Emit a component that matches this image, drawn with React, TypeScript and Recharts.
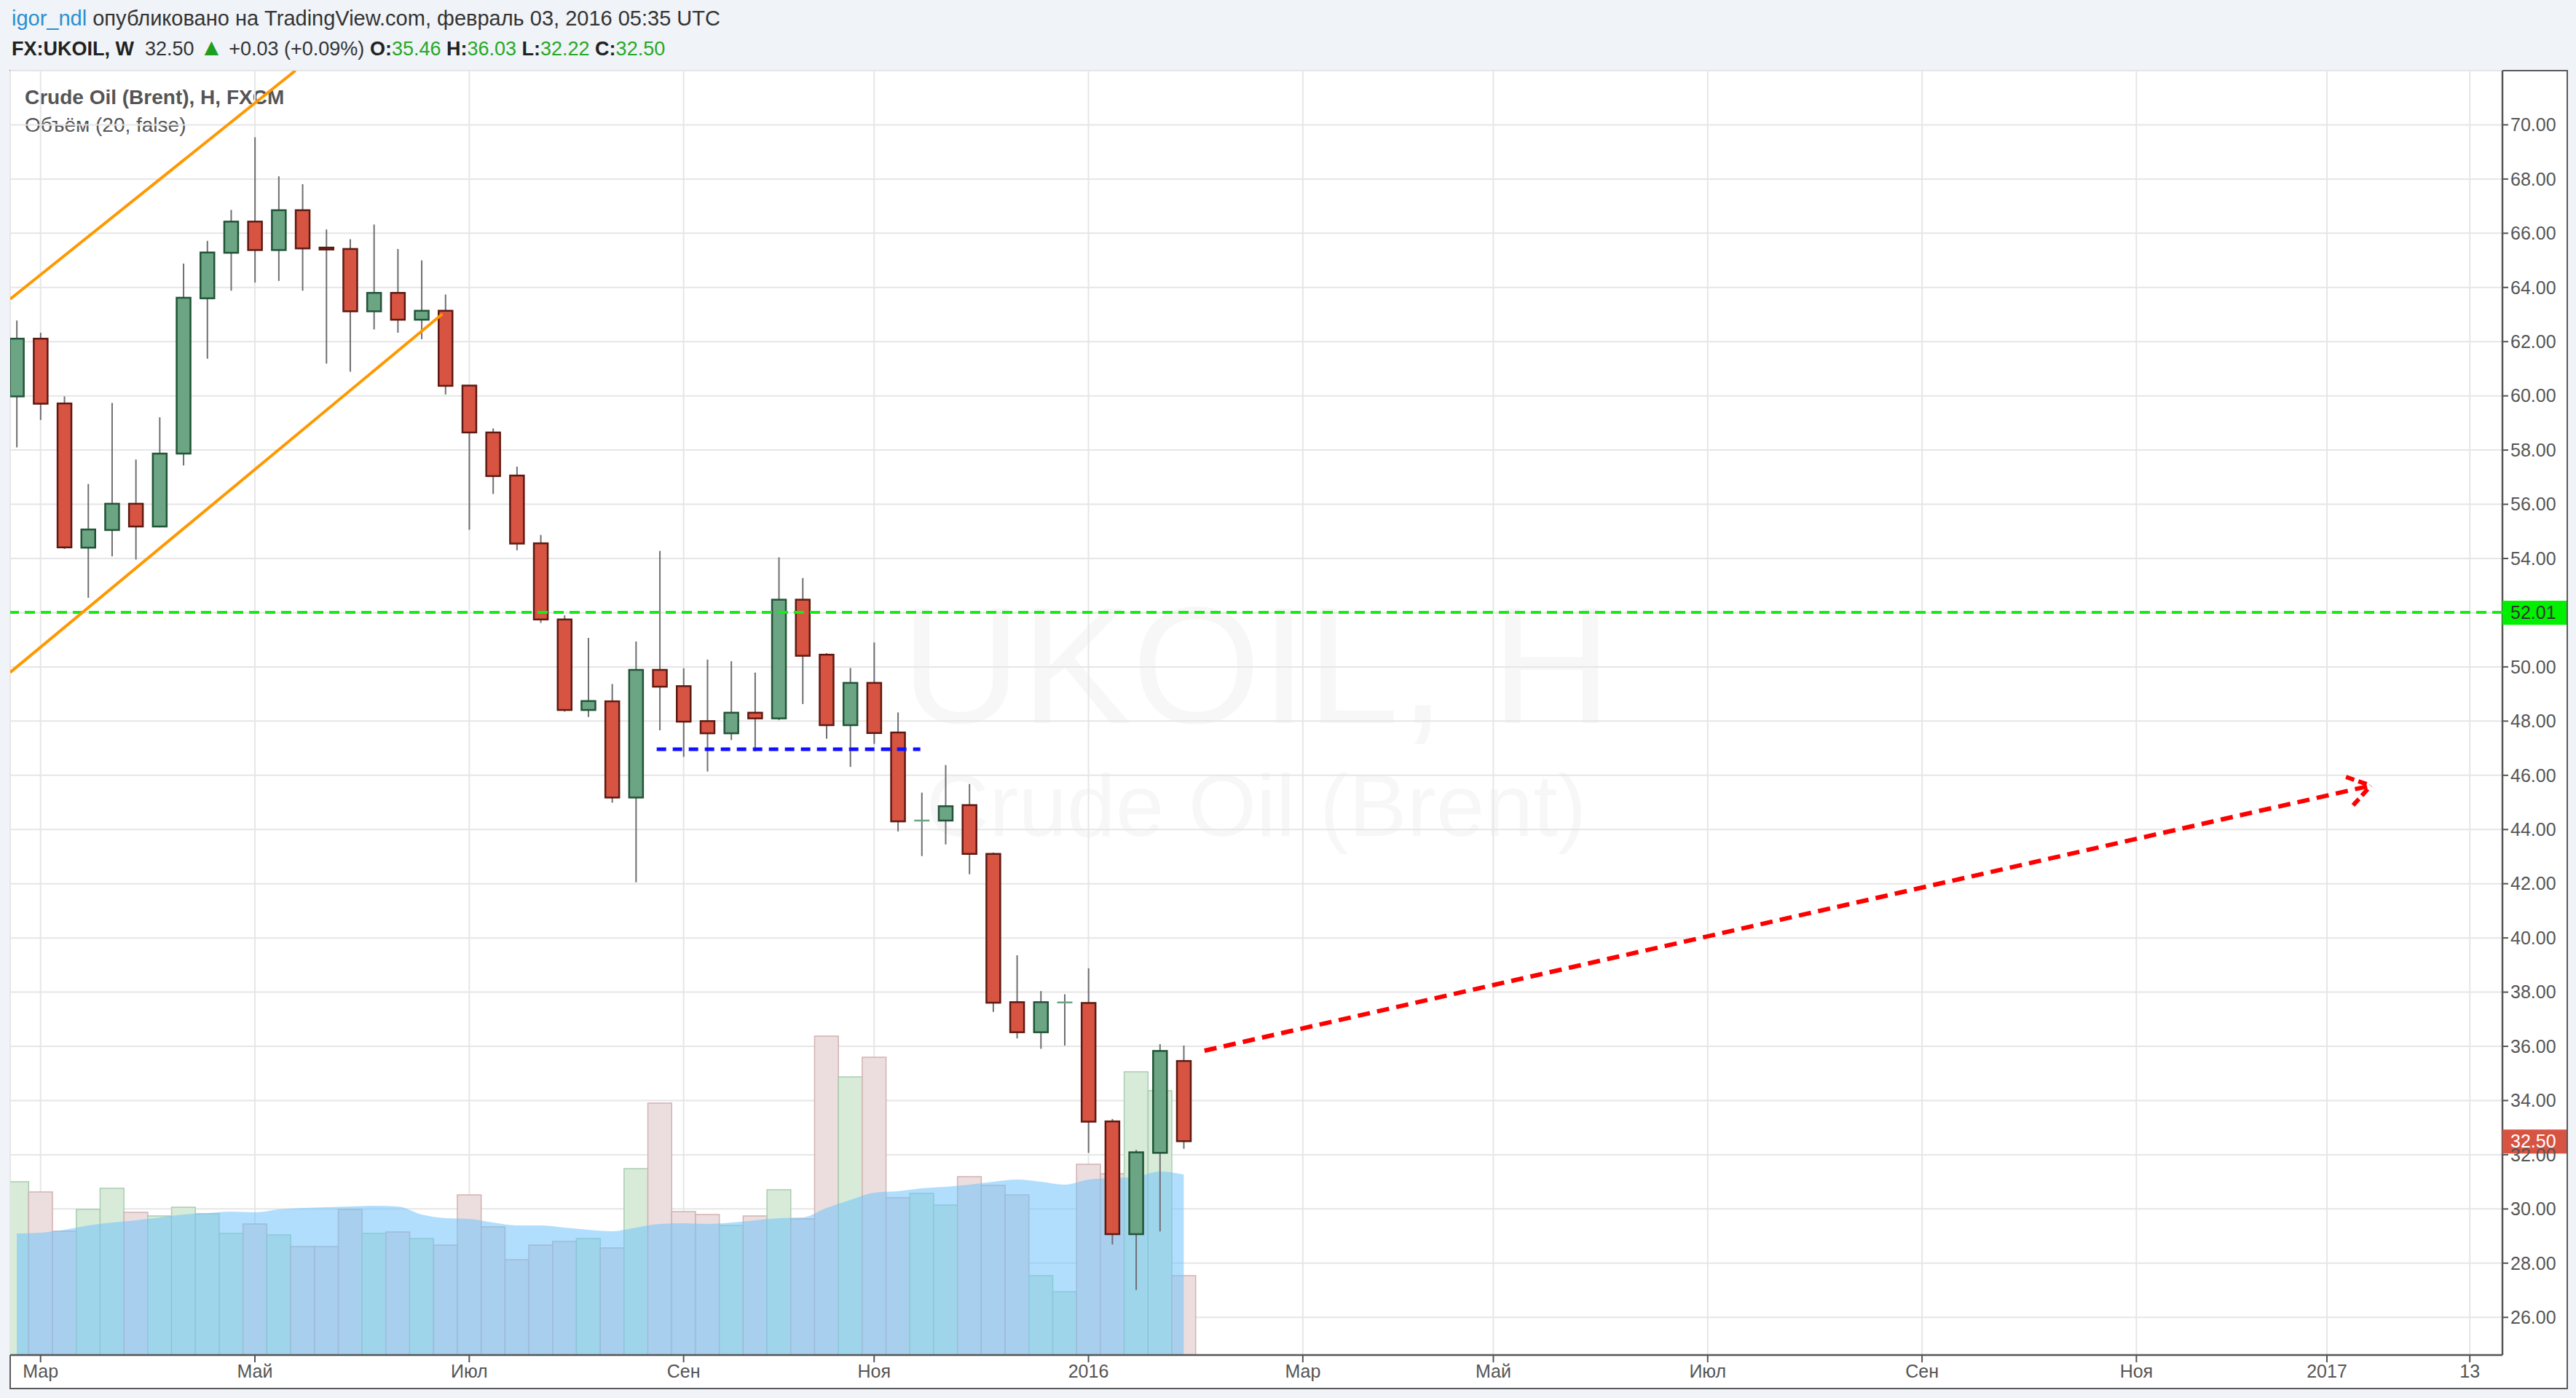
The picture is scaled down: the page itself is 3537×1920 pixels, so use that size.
import React from 'react';
import { ComposedChart, Bar, Area, XAxis, YAxis, CartesianGrid, ReferenceLine } from 'recharts';

// ---- data (weekly candles, FX:UKOIL, week 0 = 23 Feb 2015) ----
const weeks = [0, 1, 2, 3, 4, 5, 6, 7, 8, 9, 10, 11, 12, 13, 14, 15, 16, 17, 18, 19, 20, 21, 22, 23, 24, 25, 26, 27, 28, 29, 30, 31, 32, 33, 34, 35, 36, 37, 38, 39, 40, 41, 42, 43, 44, 45, 46, 47, 48, 49];
const opens = [59.98, 62.11, 59.72, 54.40, 55.05, 56.02, 55.18, 57.87, 63.60, 65.28, 66.43, 65.38, 66.85, 65.47, 65.42, 63.12, 63.80, 62.81, 63.14, 60.38, 58.65, 57.06, 54.56, 51.75, 48.41, 48.73, 45.18, 49.89, 49.29, 48.00, 47.55, 48.31, 48.10, 52.48, 50.45, 47.85, 49.41, 47.58, 44.30, 44.33, 44.90, 43.10, 37.63, 36.52, 37.60, 37.60, 33.23, 29.07, 32.07, 35.46];
const highs = [62.78, 62.33, 59.98, 56.75, 59.74, 57.65, 59.21, 64.88, 65.72, 66.86, 69.54, 68.10, 67.81, 66.14, 65.78, 66.32, 65.42, 65.00, 63.74, 60.40, 58.80, 57.39, 54.87, 51.90, 51.07, 49.37, 50.94, 54.28, 49.95, 50.27, 50.21, 49.79, 54.04, 53.28, 50.51, 49.96, 50.90, 48.32, 45.36, 46.38, 45.68, 43.15, 39.36, 38.04, 37.92, 38.88, 33.32, 32.18, 36.08, 36.03];
const lows = [58.10, 59.11, 54.35, 52.55, 54.08, 53.96, 55.15, 57.43, 61.37, 63.88, 64.18, 64.24, 63.88, 61.19, 60.89, 62.45, 62.33, 62.09, 60.05, 55.06, 56.38, 54.30, 51.62, 48.35, 48.15, 44.99, 42.05, 47.66, 46.68, 46.14, 47.30, 46.88, 48.04, 48.63, 47.35, 46.31, 47.16, 43.93, 43.02, 43.45, 42.35, 37.27, 36.29, 35.91, 36.03, 32.07, 28.69, 27.01, 29.17, 32.22];
const closes = [62.11, 59.71, 54.41, 55.07, 56.02, 55.18, 57.87, 63.62, 65.29, 66.43, 65.38, 66.85, 65.44, 65.40, 63.12, 63.80, 62.81, 63.14, 60.37, 58.65, 57.04, 54.55, 51.75, 48.41, 48.74, 45.18, 49.89, 49.27, 47.98, 47.55, 48.31, 48.10, 52.48, 50.41, 47.85, 49.41, 47.56, 44.30, 44.33, 44.86, 43.10, 37.61, 36.52, 37.63, 37.62, 33.22, 29.07, 32.09, 35.83, 32.50];
const volumes = [238, 224, 170, 200, 229, 196, 191, 203, 194, 167, 180, 165, 149, 149, 200, 167, 169, 160, 151, 220, 176, 131, 151, 156, 160, 147, 256, 346, 197, 193, 178, 191, 227, 187, 438, 382, 409, 216, 222, 206, 245, 233, 220, 109, 87, 262, 249, 389, 363, 109];
const volumeMA = [167, 168, 172, 178, 182, 185, 189, 193, 195, 197, 196, 200, 202, 203, 204, 205, 204, 193, 188, 187, 182, 178, 178, 175, 172, 170, 175, 180, 181, 180, 182, 185, 188, 189, 202, 213, 223, 225, 229, 231, 234, 238, 241, 238, 234, 241, 243, 245, 252, 248];

const timeTicks = [1, 10, 19, 28, 36, 45, 54, 62, 71, 80, 89, 97, 103];
const timeLabels = ['Мар', 'Май', 'Июл', 'Сен', 'Ноя', '2016', 'Мар', 'Май', 'Июл', 'Сен', 'Ноя', '2017', '13'];
const priceTicks = [26, 28, 30, 32, 34, 36, 38, 40, 42, 44, 46, 48, 50, 52, 54, 56, 58, 60, 62, 64, 66, 68, 70];
const xDomain = [-0.275, 104.37];
const priceDomain = [24.61, 72.0];
const volumeDomain = [0, 1764];

// drawings
const resistanceLevel = 52.01;
const lastPrice = 32.5;
const channelUpper = [{ x: -0.275, y: 63.57 }, { x: 11.7, y: 72.0 }];
const channelLower = [{ x: -0.275, y: 49.8 }, { x: 17.87, y: 63.02 }];
const supportSegment = [{ x: 26.87, y: 46.96 }, { x: 37.94, y: 46.96 }];
const forecastArrow = [{ x: 49.87, y: 35.84 }, { x: 98.84, y: 45.62 }];
const arrowArmUp = [{ x: 97.8, y: 45.94 }, { x: 98.84, y: 45.62 }];
const arrowArmDown = [{ x: 98.1, y: 44.89 }, { x: 98.84, y: 45.62 }];

const data = weeks.map((w, i) => ({
  week: w,
  open: opens[i],
  high: highs[i],
  low: lows[i],
  close: closes[i],
  range: [lows[i], highs[i]],
  vol: volumes[i],
  ma: volumeMA[i],
}));

const FONT = '"Liberation Sans", Arial, "DejaVu Sans", sans-serif';
const UP = '#6ba583';
const UP_BORDER = '#225437';
const DOWN = '#d75442';
const DOWN_BORDER = '#5e1a12';

function Candle(props: any) {
  const { x, y, width, height, payload } = props;
  if (!payload || height == null || isNaN(y)) return null;
  const { open, close, high, low } = payload;
  const top = Math.min(y, y + height);
  const h = Math.abs(height);
  const k = h / (high - low);
  const py = (v: number) => top + (high - v) * k;
  const cx = x + width / 2;
  const up = close >= open;
  const bTop = py(Math.max(open, close));
  const bBot = py(Math.min(open, close));
  const bw = 19;
  const doji = Math.abs(close - open) < 0.05;
  return (
    <g>
      <line x1={cx} x2={cx} y1={top} y2={top + h} stroke="#6f6f72" strokeWidth={2} />
      {doji ? (
        <line x1={cx - bw / 2 - 1} x2={cx + bw / 2 + 1} y1={bTop} y2={bTop} stroke={up ? UP : DOWN} strokeWidth={2.5} />
      ) : (
        <rect
          x={cx - bw / 2}
          y={bTop}
          width={bw}
          height={Math.max(bBot - bTop, 1.5)}
          fill={up ? UP : DOWN}
          stroke={up ? UP_BORDER : DOWN_BORDER}
          strokeWidth={2.5}
        />
      )}
    </g>
  );
}

function VolumeBar(props: any) {
  const { x, y, width, height, payload } = props;
  if (!payload || isNaN(y)) return null;
  const up = payload.close >= payload.open;
  return (
    <rect
      x={x}
      y={Math.min(y, y + height)}
      width={width}
      height={Math.abs(height)}
      fill={up ? '#d8ebd9' : '#ecdede'}
      stroke={up ? '#a9cdb0' : '#d2b2b2'}
      strokeWidth={1.5}
    />
  );
}

function PriceTick(props: any) {
  const { x, y, payload } = props;
  if (payload.value === 52) return <g />;
  return (
    <text x={x} y={y} dy="0.35em" textAnchor="start" fontSize={25} fill="#555" fontFamily={FONT}>
      {Number(payload.value).toFixed(2)}
    </text>
  );
}

function tagLabel(bg: string, color: string, value: number) {
  return (props: any) => {
    const vb = props.viewBox || {};
    const right = (vb.x || 0) + (vb.width || 0);
    const cy = vb.y || 0;
    return (
      <g>
        <rect x={right} y={cy - 16} width={88} height={33} fill={bg} />
        <text x={right + 11} y={cy} dy="0.36em" fontSize={25} fill={color} fontFamily={FONT}>
          {value.toFixed(2)}
        </text>
      </g>
    );
  };
}

export default function App() {
  return (
    <div style={{ position: 'relative', width: 3537, height: 1920, background: '#f0f3f7', fontFamily: FONT, overflow: 'hidden' }}>
      <style>{'body{margin:0;background:#f0f3f7;}'}</style>
      <div
        style={{
          position: 'absolute',
          left: 13,
          top: 96,
          width: 3513,
          height: 1812,
          background: '#fff',
          border: '2px solid #5a5a5a',
          boxSizing: 'border-box',
        }}
      />
      <svg width={3537} height={1920} style={{ position: 'absolute', left: 0, top: 0 }}>
        <text x={16} y={35} fontSize={29} fill="#333" fontFamily={FONT} style={{ whiteSpace: 'pre' }}>
          <tspan fill="#2a8fd1">igor_ndl</tspan>
          {' опубликовано на TradingView.com, февраль 03, 2016 05:35 UTC'}
        </text>
        <text x={16} y={76} fontSize={27} fill="#333" fontFamily={FONT} style={{ whiteSpace: 'pre' }}>
          <tspan fontWeight="bold" fill="#222">FX:UKOIL, W</tspan>
          {'  32.50 '}
          <tspan fill="#1e9e1e" fontSize={33}>▲</tspan>
          {' +0.03 (+0.09%) '}
          <tspan fontWeight="bold" fill="#222">O:</tspan>
          <tspan fill="#27a827">35.46</tspan>
          <tspan fontWeight="bold" fill="#222">{' H:'}</tspan>
          <tspan fill="#27a827">36.03</tspan>
          <tspan fontWeight="bold" fill="#222">{' L:'}</tspan>
          <tspan fill="#27a827">32.22</tspan>
          <tspan fontWeight="bold" fill="#222">{' C:'}</tspan>
          <tspan fill="#27a827">32.50</tspan>
        </text>
        <text x={1725} y={993} fontSize={228} textAnchor="middle" fill="rgba(0,0,0,0.032)" fontFamily={FONT}>
          UKOIL, H
        </text>
        <text x={1725} y={1148} fontSize={120} textAnchor="middle" fill="rgba(0,0,0,0.032)" fontFamily={FONT}>
          Crude Oil (Brent)
        </text>
        <text x={34} y={143} fontSize={28} fontWeight="bold" fill="#555" fontFamily={FONT}>
          Crude Oil (Brent), H, FXCM
        </text>
        <text x={34} y={181} fontSize={28} fill="#555" fontFamily={FONT}>
          Объём (20, false)
        </text>
      </svg>
      <div style={{ position: 'absolute', left: 0, top: 0 }}>
        <ComposedChart width={3537} height={1920} data={data} margin={{ top: 97, right: 13, bottom: 14, left: 14 }}>
          <CartesianGrid xAxisId="p" yAxisId="p" stroke="#e6e6e6" strokeWidth={2} />
          <XAxis
            xAxisId="p"
            dataKey="week"
            type="number"
            domain={xDomain}
            allowDataOverflow
            ticks={timeTicks}
            interval={0}
            tickFormatter={(v: number) => timeLabels[timeTicks.indexOf(v)] ?? ''}
            height={45}
            tickSize={10}
            tickMargin={3}
            tick={{ fontSize: 25, fill: '#555', fontFamily: FONT }}
            tickLine={{ stroke: '#555', strokeWidth: 2 }}
            axisLine={{ stroke: '#555', strokeWidth: 2.5 }}
          />
          <XAxis xAxisId="v" dataKey="week" type="number" domain={xDomain} allowDataOverflow hide />
          <YAxis
            yAxisId="p"
            orientation="right"
            type="number"
            domain={priceDomain}
            allowDataOverflow
            ticks={priceTicks}
            interval={0}
            width={88}
            tickSize={8}
            tickMargin={3}
            tick={PriceTick}
            tickLine={{ stroke: '#555', strokeWidth: 2 }}
            axisLine={{ stroke: '#555', strokeWidth: 2.5 }}
          />
          <YAxis yAxisId="v" type="number" domain={volumeDomain} allowDataOverflow hide />
          <Bar xAxisId="v" yAxisId="v" dataKey="vol" barSize={32.7} shape={VolumeBar} isAnimationActive={false} />
          <Area
            xAxisId="v"
            yAxisId="v"
            dataKey="ma"
            type="monotone"
            fill="#71c3fa"
            fillOpacity={0.55}
            stroke="none"
            isAnimationActive={false}
            zIndex={310}
          />
          <Bar xAxisId="p" yAxisId="p" dataKey="range" barSize={19} shape={Candle} isAnimationActive={false} zIndex={320} />
          <ReferenceLine
            xAxisId="p"
            yAxisId="p"
            y={resistanceLevel}
            stroke="#14ec14"
            strokeWidth={4}
            strokeDasharray="14 8"
            label={tagLabel('#00f000', '#333', resistanceLevel)}
            zIndex={700}
          />
          <ReferenceLine
            xAxisId="p"
            yAxisId="p"
            y={lastPrice}
            stroke="none"
            label={tagLabel('#d75442', '#fff', lastPrice)}
            zIndex={700}
          />
          <ReferenceLine xAxisId="p" yAxisId="p" segment={channelUpper} stroke="#ff9800" strokeWidth={4} ifOverflow="hidden" zIndex={700} />
          <ReferenceLine xAxisId="p" yAxisId="p" segment={channelLower} stroke="#ff9800" strokeWidth={4} ifOverflow="hidden" zIndex={700} />
          <ReferenceLine xAxisId="p" yAxisId="p" segment={supportSegment} stroke="#1010ff" strokeWidth={5} strokeDasharray="13 9" zIndex={700} />
          <ReferenceLine xAxisId="p" yAxisId="p" segment={forecastArrow} stroke="#ff0000" strokeWidth={6} strokeDasharray="17 10" zIndex={700} />
          <ReferenceLine xAxisId="p" yAxisId="p" segment={arrowArmUp} stroke="#ff0000" strokeWidth={6} strokeDasharray="12 6" zIndex={700} />
          <ReferenceLine xAxisId="p" yAxisId="p" segment={arrowArmDown} stroke="#ff0000" strokeWidth={6} strokeDasharray="12 6" zIndex={700} />
        </ComposedChart>
      </div>
    </div>
  );
}
